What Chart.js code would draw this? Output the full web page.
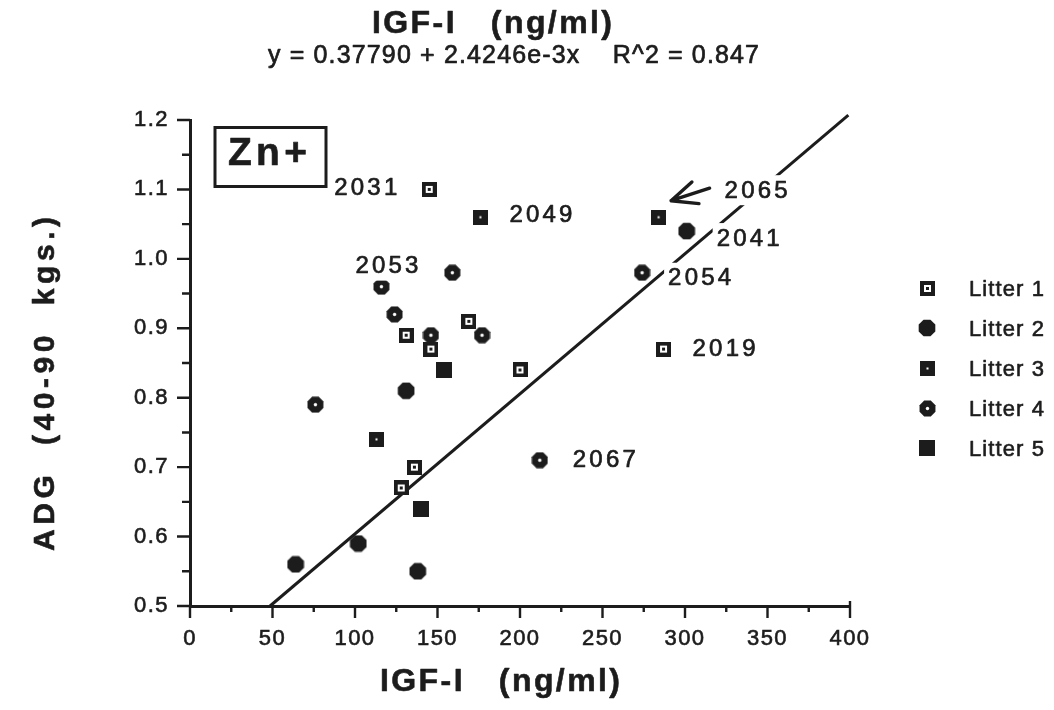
<!DOCTYPE html>
<html>
<head>
<meta charset="utf-8">
<script src="https://cdn.jsdelivr.net/npm/chart.js@4.4.1/dist/chart.umd.min.js"></script>
<style>
  html, body { margin: 0; padding: 0; background: #fff; }
  canvas { display: block; }
</style>
</head>
<body>
<canvas id="chart" width="1054" height="710"></canvas>
<script>
// IGF-I (ng/ml) against average daily gain, one series per litter
const litter1X = [145, 131, 146, 169, 287, 200, 136, 128];
const litter1Y = [1.10, 0.89, 0.87, 0.91, 0.87, 0.84, 0.70, 0.67];
const litter2X = [301, 131, 102, 64, 138];
const litter2Y = [1.04, 0.81, 0.59, 0.56, 0.55];
const litter3X = [176, 284, 113];
const litter3Y = [1.06, 1.06, 0.74];
const litter4X = [159, 116, 124, 146, 177, 274, 76, 212];
const litter4Y = [0.98, 0.96, 0.92, 0.89, 0.89, 0.98, 0.79, 0.71];
const litter5X = [154, 140];
const litter5Y = [0.84, 0.64];

// regression line end points
const fitX = [48.5, 399];
const fitY = [0.50, 1.207];

const seriesNames = ['Litter 1', 'Litter 2', 'Litter 3', 'Litter 4', 'Litter 5'];
const titleText = 'IGF-I   (ng/ml)';
const equationText = 'y = 0.37790 + 2.4246e-3x    R^2 = 0.847';
const xTitleText = 'IGF-I   (ng/ml)';
const yTitleText = 'ADG  (40-90  kgs.)';
const groupText = 'Zn+';

// animal ids: which series / point they belong to
const animalIds = ['2031', '2049', '2053', '2065', '2041', '2054', '2019', '2067'];
const animalSeries = [0, 2, 3, 2, 1, 3, 0, 3];
const animalIndex = [0, 0, 1, 1, 0, 5, 4, 7];

// ---------- styling / placement ----------
const INK = '#1c1c1c';
const FONT = '"Liberation Sans", Arial, Helvetica, sans-serif';
const CAP = 0.716;

// label offsets relative to the labelled point (left edge, cap centre)
const idPlacement = [
  { dx: -95, dy: -3 },
  { dx: 29, dy: -4 },
  { dx: -26, dy: -22 },
  { dx: 66, dy: -28 },
  { dx: 30, dy: 6 },
  { dx: 26, dy: 4 },
  { dx: 29, dy: -2 },
  { dx: 33, dy: -2 }
];
const ID_WIDTH = 63;

function octagon(g, cx, cy, r) {
  g.beginPath();
  for (let k = 0; k < 8; k++) {
    const a = Math.PI / 8 + k * Math.PI / 4;
    const px = cx + r * Math.cos(a), py = cy + r * Math.sin(a);
    if (k === 0) g.moveTo(px, py); else g.lineTo(px, py);
  }
  g.closePath();
  g.fill();
}

function makeMarker(kind) {
  const sizes = [15, 18, 15, 17, 16];
  const s = sizes[kind];
  const c = document.createElement('canvas');
  c.width = s; c.height = s;
  const g = c.getContext('2d');
  g.fillStyle = INK;
  if (kind === 0) {           // dark square, white inner square, dark centre
    g.fillRect(0, 0, 15, 15);
    g.fillStyle = '#fff'; g.fillRect(4, 4, 7, 7);
    g.fillStyle = INK; g.fillRect(6, 6, 3, 3);
  } else if (kind === 1) {    // solid octagon
    octagon(g, 9, 9, 9);
  } else if (kind === 2) {    // solid square with centre dot
    g.fillRect(0, 0, 15, 15);
    g.fillStyle = '#fff'; g.fillRect(6.5, 6.5, 2, 2);
  } else if (kind === 3) {    // octagon with white centre
    octagon(g, 8.5, 8.5, 8.6);
    g.fillStyle = '#fff';
    g.beginPath(); g.arc(8.5, 8.5, 1.7, 0, Math.PI * 2); g.fill();
  } else {                    // solid square
    g.fillRect(0, 0, 16, 16);
  }
  return c;
}
const markers = [0, 1, 2, 3, 4].map(makeMarker);

function fitText(ctx, text, left, right, cy, weight, size, stroke) {
  ctx.save();
  ctx.font = weight + ' ' + size + 'px ' + FONT;
  ctx.letterSpacing = '0px';
  const w0 = ctx.measureText(text).width;
  const n = Array.from(text).length;
  const sp = n > 1 ? (right - left - w0) / (n - 1) : 0;
  ctx.letterSpacing = sp + 'px';
  ctx.textAlign = 'left';
  ctx.textBaseline = 'alphabetic';
  ctx.fillStyle = INK;
  const base = cy + size * CAP / 2;
  if (stroke) {
    ctx.strokeStyle = INK;
    ctx.lineWidth = stroke;
    ctx.lineJoin = 'round';
    ctx.strokeText(text, left, base);
  }
  ctx.fillText(text, left, base);
  ctx.restore();
}

const toPoints = (xs, ys) => xs.map((x, i) => ({ x: x, y: ys[i] }));

const tickSpacing = {
  id: 'tickSpacing',
  beforeUpdate(chart) { chart.ctx.letterSpacing = '1.5px'; },
  beforeDraw(chart) { chart.ctx.letterSpacing = '1.5px'; }
};

const decorations = {
  id: 'decorations',
  afterDraw(chart) {
    const ctx = chart.ctx;
    const area = chart.chartArea;
    const xs = chart.scales.x, ys = chart.scales.y;

    // tick marks: long at labelled values, short in between
    ctx.save();
    ctx.strokeStyle = INK;
    ctx.lineWidth = 2.4;
    ctx.beginPath();
    ys.ticks.forEach(t => {
      const major = Math.round(t.value * 100) % 10 === 0;
      const py = ys.getPixelForValue(t.value);
      ctx.moveTo(area.left - (major ? 13 : 8), py);
      ctx.lineTo(area.left, py);
    });
    xs.ticks.forEach(t => {
      const major = Math.round(t.value) % 50 === 0;
      const px = xs.getPixelForValue(t.value);
      ctx.moveTo(px, area.bottom - (t.value === xs.max ? 5 : 0));
      ctx.lineTo(px, area.bottom + (major ? 12 : 6));
    });
    ctx.stroke();
    ctx.restore();

    // animal id labels on white boxes
    animalIds.forEach((id, k) => {
      const el = chart.getDatasetMeta(animalSeries[k]).data[animalIndex[k]];
      const left = el.x + idPlacement[k].dx;
      const cy = el.y + idPlacement[k].dy;
      ctx.save();
      ctx.fillStyle = '#fff';
      ctx.fillRect(left - 4, cy - 14, ID_WIDTH + 8, 30);
      ctx.restore();
      fitText(ctx, id, left, left + ID_WIDTH, cy, 'normal', 24, 0.7);
    });

    // arrow towards 2065
    const target = chart.getDatasetMeta(animalSeries[3]).data[animalIndex[3]];
    const tipX = target.x + 12.5, tipY = target.y - 16.5;
    const tailX = target.x + 51, tailY = target.y - 29;
    const ang = Math.atan2(tailY - tipY, tailX - tipX);
    ctx.save();
    ctx.strokeStyle = INK;
    ctx.lineWidth = 3.4;
    ctx.lineCap = 'round';
    ctx.beginPath();
    ctx.moveTo(tailX, tailY); ctx.lineTo(tipX, tipY);
    [-0.42, 0.42].forEach(d => {
      ctx.moveTo(tipX, tipY);
      ctx.lineTo(tipX + 28 * Math.cos(ang + d), tipY + 28 * Math.sin(ang + d));
    });
    ctx.stroke();
    ctx.restore();

    // group box
    ctx.save();
    ctx.strokeStyle = INK;
    ctx.lineWidth = 3;
    ctx.strokeRect(area.left + 25, area.top + 7.5, 111, 59);
    ctx.restore();
    fitText(ctx, groupText, area.left + 38, area.left + 117, area.top + 31, 'bold', 39, 0.6);

    // legend
    seriesNames.forEach((name, i) => {
      const cy = 288 + i * 40;
      const m = markers[i];
      ctx.drawImage(m, Math.round(927 - m.width / 2), Math.round(cy - m.height / 2));
      fitText(ctx, name, 969, 1044, cy, 'normal', 22, 0.6);
    });

    // titles
    fitText(ctx, titleText, 372, 612, 22, 'bold', 32, 0.6);
    fitText(ctx, equationText, 268, 759, 54, 'normal', 25, 0.7);
    fitText(ctx, xTitleText, 380, 620, 680, 'bold', 32, 0.6);
    ctx.save();
    ctx.translate(43, 384);
    ctx.rotate(-Math.PI / 2);
    fitText(ctx, yTitleText, -167, 167, 0, 'bold', 30, 0.6);
    ctx.restore();
  }
};

const tickFont = { family: FONT, size: 22 };

new Chart(document.getElementById('chart'), {
  type: 'scatter',
  data: {
    datasets: [
      { label: seriesNames[0], data: toPoints(litter1X, litter1Y), pointStyle: markers[0], pointRadius: 8 },
      { label: seriesNames[1], data: toPoints(litter2X, litter2Y), pointStyle: markers[1], pointRadius: 8 },
      { label: seriesNames[2], data: toPoints(litter3X, litter3Y), pointStyle: markers[2], pointRadius: 8 },
      { label: seriesNames[3], data: toPoints(litter4X, litter4Y), pointStyle: markers[3], pointRadius: 8 },
      { label: seriesNames[4], data: toPoints(litter5X, litter5Y), pointStyle: markers[4], pointRadius: 8 },
      { label: 'fit', data: toPoints(fitX, fitY), showLine: true, borderColor: INK, borderWidth: 3, pointRadius: 0, fill: false, clip: 10 }
    ]
  },
  options: {
    responsive: false,
    animation: false,
    devicePixelRatio: 1,
    layout: { padding: { top: 120, right: 204, left: 0, bottom: 0 } },
    plugins: { legend: { display: false }, tooltip: { enabled: false } },
    scales: {
      x: {
        type: 'linear', min: 0, max: 400,
        ticks: {
          stepSize: 25, autoSkip: false, maxRotation: 0, font: tickFont, color: INK, padding: 8,
          textStrokeColor: INK, textStrokeWidth: 0.6,
          callback: v => (Math.round(v) % 50 === 0 ? String(v) : '')
        },
        grid: { drawOnChartArea: false, tickLength: 12, tickColor: 'rgba(0,0,0,0)' },
        border: { color: INK, width: 3 },
        afterFit: s => { s.height = 104; }
      },
      y: {
        type: 'linear', min: 0.5, max: 1.2,
        ticks: {
          stepSize: 0.05, autoSkip: false, font: tickFont, color: INK, padding: 9,
          textStrokeColor: INK, textStrokeWidth: 0.6,
          callback: v => { const t = Math.round(v * 100); return t % 10 === 0 ? (t / 100).toFixed(1) : ''; }
        },
        grid: { drawOnChartArea: false, tickLength: 12, tickColor: 'rgba(0,0,0,0)' },
        border: { color: INK, width: 3 },
        afterFit: s => { s.width = 190; }
      }
    }
  },
  plugins: [tickSpacing, decorations]
});
</script>
</body>
</html>
